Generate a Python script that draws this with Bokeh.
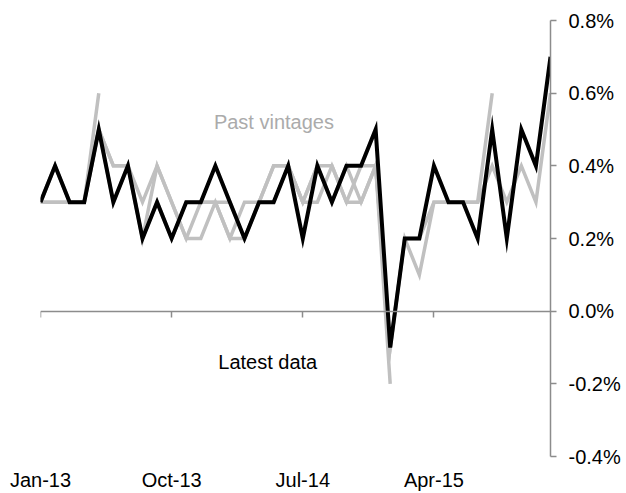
from bokeh.plotting import figure
from bokeh.models import (LinearAxis, FixedTicker, CustomJSTickFormatter, Range1d,
                          Label)
from bokeh.embed import file_html
from bokeh.resources import INLINE

# Monthly index: 0 = Jan-13 ... 35 = Dec-15
months = list(range(36))

# Latest data (% m/m)
latest = [0.3, 0.4, 0.3, 0.3, 0.5, 0.3, 0.4, 0.2, 0.3, 0.2, 0.3, 0.3,
          0.4, 0.3, 0.2, 0.3, 0.3, 0.4, 0.2, 0.4, 0.3, 0.4, 0.4, 0.5,
          -0.1, 0.2, 0.2, 0.4, 0.3, 0.3, 0.2, 0.5, 0.2, 0.5, 0.4, 0.7]

# Past vintages (each ends at the month it was published for)
vintage_1 = [0.3, 0.3, 0.3, 0.3, 0.6]
vintage_2 = [0.3, 0.3, 0.3, 0.3, 0.5, 0.4, 0.4, 0.2, 0.4, 0.3, 0.2, 0.3,
             0.3, 0.2, 0.2, 0.3, 0.4, 0.4, 0.3, 0.4, 0.3, 0.4, 0.3, 0.4,
             -0.2]
vintage_3 = [0.3, 0.4, 0.3, 0.3, 0.5, 0.4, 0.4, 0.3, 0.4, 0.3, 0.2, 0.2,
             0.3, 0.2, 0.3, 0.3, 0.4, 0.4, 0.3, 0.3, 0.4, 0.3, 0.4, 0.4,
             -0.1, 0.2, 0.1, 0.3, 0.3, 0.3, 0.3, 0.6]
vintage_4 = [0.3, 0.4, 0.3, 0.3, 0.5, 0.3, 0.4, 0.2, 0.3, 0.2, 0.3, 0.3,
             0.3, 0.3, 0.2, 0.3, 0.3, 0.4, 0.3, 0.4, 0.4, 0.3, 0.3, 0.4,
             -0.1, 0.2, 0.2, 0.3, 0.3, 0.3, 0.3, 0.4, 0.3, 0.4, 0.3, 0.6]
vintages = [vintage_1, vintage_2, vintage_3, vintage_4]

x_tick_positions = [0, 9, 18, 27]
x_tick_labels = ["Jan-13", "Oct-13", "Jul-14", "Apr-15"]
y_ticks = [-0.4, -0.2, 0.0, 0.2, 0.4, 0.6, 0.8]

FONT = "Liberation Sans"
AXIS_GREY = "#8c8c8c"
LINE_GREY = "#c0c0c0"

p = figure(width=623, height=493,
           x_range=Range1d(0, 35), y_range=Range1d(-0.4, 0.8),
           output_backend="svg", toolbar_location=None,
           x_axis_location=None, y_axis_location="right",
           min_border_left=40, min_border_right=73,
           min_border_top=20, min_border_bottom=35)
p.outline_line_color = None
p.grid.visible = False
p.background_fill_color = "white"
p.border_fill_color = "white"

# Past vintages
for v in vintages:
    p.line(months[:len(v)], v, line_color=LINE_GREY, line_width=3.5,
           line_join="miter")

# Latest data
p.line(months, latest, line_color="black", line_width=4, line_join="miter")

# Y axis (right)
yax = p.yaxis[0]
yax.ticker = FixedTicker(ticks=y_ticks)
yax.formatter = CustomJSTickFormatter(code="return tick.toFixed(1) + '%';")
yax.axis_line_color = AXIS_GREY
yax.axis_line_width = 1.5
yax.major_tick_line_color = AXIS_GREY
yax.major_tick_line_width = 1.5
yax.major_tick_in = 0
yax.major_tick_out = 6
yax.minor_tick_line_color = None
yax.major_label_standoff = 12
yax.major_label_text_font = FONT
yax.major_label_text_font_size = "20px"
yax.major_label_text_color = "black"

# Zero line axis with tick marks
zero_axis = LinearAxis(fixed_location=0,
                       ticker=FixedTicker(ticks=x_tick_positions),
                       major_label_overrides={t: "" for t in x_tick_positions},
                       axis_line_color=AXIS_GREY, axis_line_width=1.5,
                       major_tick_line_color=AXIS_GREY, major_tick_line_width=1.5,
                       major_tick_in=0, major_tick_out=6,
                       minor_tick_line_color=None,
                       major_label_text_font_size="1px")
p.add_layout(zero_axis, "below")

# Bottom date labels
label_axis = LinearAxis(ticker=FixedTicker(ticks=x_tick_positions),
                        major_label_overrides=dict(zip(x_tick_positions, x_tick_labels)),
                        axis_line_color=None, major_tick_line_color=None,
                        minor_tick_line_color=None, major_tick_in=0, major_tick_out=0,
                        major_label_standoff=12,
                        major_label_text_font=FONT,
                        major_label_text_font_size="20px",
                        major_label_text_color="black")
p.add_layout(label_axis, "below")

# Annotations
p.add_layout(Label(x=11.9, y=0.522, text="Past vintages", text_font=FONT,
                   text_font_size="20px", text_color="#ababab",
                   text_baseline="alphabetic", text_align="left"))
p.add_layout(Label(x=12.2, y=-0.139, text="Latest data", text_font=FONT,
                   text_font_size="20px", text_color="black",
                   text_baseline="alphabetic", text_align="left"))

open("out.html", "w").write(file_html(p, INLINE))
